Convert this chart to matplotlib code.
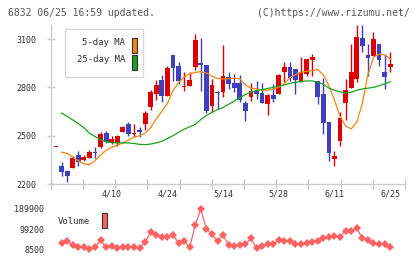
import numpy as np
import matplotlib
matplotlib.use("Agg")
import matplotlib.pyplot as plt
from matplotlib.patches import Rectangle

# daily candles, index 0..60 (last = 6/25)
opens = [2430, 2314, 2281, 2301, 2380, 2351, 2363, 2401, 2430, 2517,
         2454, 2454, 2525, 2570, 2510, 2535, 2572, 2676, 2759, 2846,
         2748, 3001, 2933, 2804, 2806, 2928, 2951, 2941, 2686, 2773,
         2772, 2862, 2827, 2827, 2703, 2738, 2777, 2765, 2697, 2753,
         2759, 2897, 2926, 2914, 2835, 2883, 2972, 2837, 2757, 2583,
         2355, 2467, 2703, 2794, 2852, 3107, 3001, 2997, 3069, 2897,
         2928]
closes = [2430, 2276, 2247, 2359, 2339, 2367, 2401, 2393, 2508, 2459,
          2479, 2496, 2554, 2512, 2515, 2525, 2641, 2773, 2815, 2748,
          2920, 2920, 2837, 2808, 2848, 3094, 2941, 2655, 2815, 2765,
          2869, 2821, 2794, 2724, 2655, 2777, 2759, 2703, 2753, 2728,
          2877, 2926, 2858, 2846, 2897, 2976, 2989, 2742, 2579, 2392,
          2374, 2610, 2784, 2897, 3111, 3055, 2984, 3100, 2972, 2866,
          2947]
highs = [2430, 2339, 2285, 2372, 2405, 2380, 2413, 2428, 2521, 2529,
         2496, 2504, 2562, 2583, 2572, 2552, 2653, 2784, 2848, 2877,
         2931, 3001, 2955, 2897, 2897, 3131, 3106, 2941, 2852, 2775,
         3063, 2897, 2883, 2877, 2717, 2827, 2842, 2827, 2759, 2821,
         2883, 2955, 2955, 2914, 2986, 2976, 3007, 2837, 2856, 2583,
         2405, 2645, 2852, 3069, 3190, 3190, 3069, 3142, 3069, 3007,
         3021]
lows = [2430, 2252, 2214, 2301, 2310, 2343, 2363, 2359, 2426, 2455,
        2450, 2438, 2521, 2496, 2490, 2490, 2537, 2659, 2724, 2707,
        2748, 2837, 2821, 2775, 2806, 2910, 2779, 2640, 2649, 2666,
        2742, 2790, 2769, 2711, 2593, 2717, 2728, 2703, 2628, 2711,
        2759, 2831, 2842, 2759, 2835, 2873, 2870, 2697, 2510, 2345,
        2314, 2438, 2599, 2794, 2835, 3018, 2873, 2997, 2935, 2790,
        2897]

nan = np.nan
ma5 = [nan, 2397, 2390, 2366, 2345, 2325, 2320, 2345, 2380, 2410,
       2428, 2440, 2455, 2472, 2490, 2500, 2515, 2550, 2604, 2650,
       2700, 2780, 2830, 2865, 2883, 2893, 2897, 2890, 2869, 2855,
       2852, 2854, 2856, 2853, 2815, 2795, 2790, 2783, 2782, 2788,
       2800, 2822, 2860, 2880, 2893, 2900, 2904, 2910, 2878, 2810,
       2720, 2620, 2560, 2542, 2583, 2700, 2880, 2987, 3005, 3002,
       2976]
ma25 = [nan, 2640, 2620, 2598, 2575, 2550, 2515, 2495, 2475, 2462,
        2457, 2455, 2455, 2455, 2452, 2446, 2444, 2448, 2455, 2465,
        2482, 2500, 2520, 2540, 2555, 2570, 2600, 2625, 2645, 2662,
        2675, 2695, 2715, 2735, 2755, 2770, 2780, 2786, 2793, 2800,
        2808, 2815, 2825, 2831, 2836, 2840, 2840, 2832, 2820, 2795,
        2782, 2772, 2765, 2770, 2782, 2790, 2795, 2800, 2810, 2822,
        2835]

volume = [nan, 35500, 45900, 27900, 17500, 17500, 8500, 17500, 50400, 17500,
          24700, 13000, 17500, 17500, 20200, 13000, 40000, 87700, 72900, 65200,
          65200, 72900, 38200, 45900, 17500, 117900, 189900, 99900, 76000, 45900,
          72900, 27900, 23400, 27900, 31000, 58000, 13000, 23400, 31000, 31000,
          50400, 45900, 45900, 31000, 31000, 35500, 40000, 45900, 60700, 65200,
          69700, 65200, 90900, 90900, 103000, 58000, 50400, 35500, 32400, 31000,
          20200]

date_pos = [10, 20, 30, 40, 50, 60]
date_labels = ["4/10", "4/24", "5/14", "5/28", "6/11", "6/25"]
price_ticks = [2200, 2500, 2800, 3100]

RED = "#dd0000"
BLUE = "#4040bf"
ORANGE = "#f2850f"
GREEN = "#1aa51a"
VOL = "#ff6262"
GRID = "#cccccc"
MONO = "DejaVu Sans Mono"

W, H = 420, 259
fig = plt.figure(figsize=(W / 100, H / 100), dpi=100)


def fig_box(x0, y0, x1, y1):
    # pixel box (top-left origin) -> figure fraction rect
    return [x0 / W, 1 - y1 / H, (x1 - x0) / W, (y1 - y0) / H]


def fig_xy(x, y):
    return x / W, 1 - y / H


xlim = (-0.95, 62.66)
x = np.arange(len(opens))

ax = fig.add_axes(fig_box(50.7, 25, 405, 184))
ax.set_xlim(*xlim)
ax.set_ylim(2200, 3187)

o = np.array(opens, float)
c = np.array(closes, float)
up = c >= o
colors = [RED if u else BLUE for u in up]
bottoms = np.minimum(o, c)
heights = np.maximum(np.abs(c - o), 6)

ax.vlines(x, lows, highs, colors=colors, linewidth=1.0, zorder=2)
ax.bar(x, heights, bottom=bottoms, width=0.86, color=colors,
       linewidth=0, zorder=3)

ax.plot(x, ma5, color=ORANGE, linewidth=0.9, zorder=4)
ax.plot(x, ma25, color=GREEN, linewidth=0.9, zorder=4)

for side in ["top", "right"]:
    ax.spines[side].set_visible(False)
for side in ["left", "bottom"]:
    ax.spines[side].set_color(GRID)
    ax.spines[side].set_linewidth(1.0)

ax.set_yticks(price_ticks)
ax.set_yticklabels([str(p) for p in price_ticks])
ax.tick_params(axis="y", direction="inout", length=6, width=1.0,
               color=GRID, pad=7, labelsize=6, labelcolor="#333333")
for lab in ax.get_yticklabels():
    lab.set_fontfamily(MONO)

ax.set_xticks(np.linspace(xlim[0], xlim[1], 12))
ax.set_xticklabels([])
ax.tick_params(axis="x", direction="inout", length=7, width=1.0, color=GRID)
for p, lab in zip(date_pos, date_labels):
    ax.text(p, -0.035, lab, transform=ax.get_xaxis_transform(),
            ha="center", va="top", fontsize=6, family=MONO, color="#333333")

# legend box for moving averages
ax.add_artist(Rectangle(fig_xy(65, 77.3), 78.3 / W, 48.3 / H,
                        transform=fig.transFigure, facecolor="white",
                        edgecolor="#d8d8d8", linewidth=1.0, zorder=5))
fig.text(*fig_xy(125.5, 42.5), "5-day MA", ha="right", va="center",
         fontsize=6.5, family=MONO, color="#333333", zorder=6)
fig.text(*fig_xy(125.5, 60), "25-day MA", ha="right", va="center",
         fontsize=6.5, family=MONO, color="#333333", zorder=6)
fig.patches.append(Rectangle(fig_xy(131.5, 52.5), 5.8 / W, 15 / H,
                             transform=fig.transFigure, facecolor=ORANGE,
                             edgecolor="#333333", linewidth=0.8, zorder=6))
fig.patches.append(Rectangle(fig_xy(131.5, 69.5), 5.8 / W, 15 / H,
                             transform=fig.transFigure, facecolor=GREEN,
                             edgecolor="#333333", linewidth=0.8, zorder=6))

# volume panel
vmin, vmax = 8500, 189900
axv = fig.add_axes(fig_box(50.7, 205, 405, 253))
axv.set_xlim(*xlim)
axv.set_ylim(-8150, 207900)
axv.plot(x, volume, color=VOL, linewidth=0.9, marker="D",
         markersize=4.0, markeredgewidth=0, clip_on=False)
for side in axv.spines.values():
    side.set_visible(False)
axv.set_xticks([])
vt = [vmin, (vmin + vmax) // 2, vmax]
axv.set_yticks(vt)
axv.set_yticklabels([str(v) for v in vt])
axv.tick_params(axis="y", length=0, pad=4.5, labelsize=6,
                labelcolor="#333333")
for lab in axv.get_yticklabels():
    lab.set_fontfamily(MONO)

fig.text(*fig_xy(57.5, 222), "Volume", ha="left", va="center",
         fontsize=6.5, family=MONO, color="#333333")
fig.patches.append(Rectangle(fig_xy(101.5, 228), 5.8 / W, 15 / H,
                             transform=fig.transFigure, facecolor=VOL,
                             edgecolor="#333333", linewidth=0.8))

# header
fig.text(*fig_xy(8, 12.5), "6832 06/25 16:59 updated.", ha="left",
         va="center", fontsize=7, family=MONO, color="#555555")
fig.text(*fig_xy(410, 12.5), "(C)https://www.rizumu.net/", ha="right",
         va="center", fontsize=7, family=MONO, color="#555555")

fig.savefig("out.png", dpi=100)
